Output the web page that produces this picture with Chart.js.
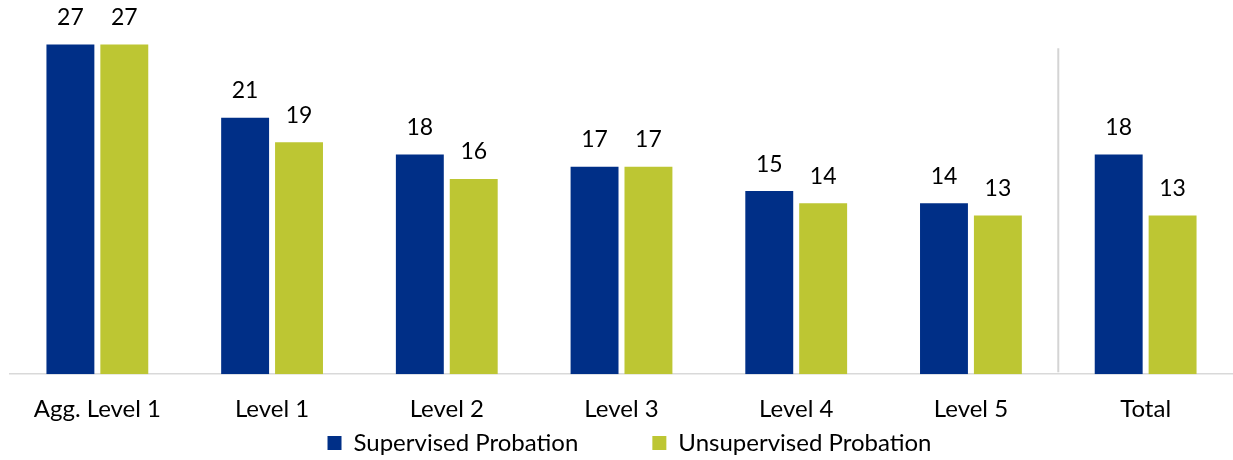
<!DOCTYPE html>
<html>
<head>
<meta charset="utf-8">
<script src="https://cdn.jsdelivr.net/npm/chart.js@4/dist/chart.umd.min.js"></script>
<style>
  html, body { margin: 0; padding: 0; background: #fff; }
  #wrap { width: 1233px; height: 460px; }
</style>
</head>
<body>
<div id="wrap"><canvas id="probationChart"></canvas></div>
<script>
// Categories and series
const categories = ["Agg. Level 1", "Level 1", "Level 2", "Level 3", "Level 4", "Level 5", "Total"];
const supervised = [27, 21, 18, 17, 15, 14, 18];
const unsupervised = [27, 19, 16, 17, 14, 13, 13];
const seriesNames = ["Supervised Probation", "Unsupervised Probation"];

const BLUE = "#002F87";
const GREEN = "#BDC633";
const FONT = "Lato, 'Open Sans', sans-serif";

// Value labels above each bar (kept inside the canvas near the top)
const valueLabels = {
  id: "valueLabels",
  afterDatasetsDraw(chart) {
    const ctx = chart.ctx;
    ctx.save();
    ctx.font = "23px " + FONT;
    ctx.fillStyle = "#000";
    ctx.textAlign = "center";
    ctx.textBaseline = "middle";
    chart.data.datasets.forEach((ds, i) => {
      chart.getDatasetMeta(i).data.forEach((bar, j) => {
        ctx.fillText(ds.data[j], bar.x, Math.max(bar.y - 27, 18));
      });
    });
    ctx.restore();
  }
};

// Thin grey divider before the Total group
const totalDivider = {
  id: "totalDivider",
  afterDraw(chart) {
    const x = chart.scales.x.getPixelForValue(5.5);
    const top = chart.scales.y.getPixelForValue(26.7);
    const ctx = chart.ctx;
    ctx.save();
    ctx.strokeStyle = "#D4D4D4";
    ctx.lineWidth = 2;
    ctx.beginPath();
    ctx.moveTo(x, top);
    ctx.lineTo(x, chart.chartArea.bottom - 2);
    ctx.stroke();
    ctx.restore();
  }
};

// nudge the legend a little right, like the original
const legendShift = {
  id: "legendShift",
  afterLayout(chart) {
    chart.legend.left += 8;
    chart.legend.right += 8;
  }
};

const ctx = document.getElementById("probationChart").getContext("2d");
new Chart(ctx, {
  type: "bar",
  data: {
    labels: categories,
    datasets: [
      { label: seriesNames[0], data: supervised, backgroundColor: BLUE },
      { label: seriesNames[1], data: unsupervised, backgroundColor: GREEN }
    ]
  },
  options: {
    responsive: true,
    maintainAspectRatio: false,
    animation: false,
    layout: { padding: { left: 10, right: 0, top: 8, bottom: -5 } },
    datasets: { bar: { categoryPercentage: 0.617, barPercentage: 0.889 } },
    scales: {
      x: {
        grid: { display: false, drawTicks: false },
        border: { color: "#D9D9D9", width: 1.5 },
        ticks: { color: "#000", font: { family: FONT, size: 24 }, padding: 21 },
        afterFit(scale) { scale.height -= 22; }
      },
      y: { display: false, min: 0, max: 30 }
    },
    plugins: {
      tooltip: { enabled: false },
      legend: {
        position: "bottom",
        labels: {
          color: "#000",
          font: { family: FONT, size: 24 },
          boxWidth: 14,
          boxHeight: 14,
          padding: 8,
          generateLabels(chart) {
            const items = Chart.defaults.plugins.legend.labels.generateLabels(chart);
            items[0].text = items[0].text + "\u2003\u2003\u2003\u2002";
            items.forEach(it => { it.lineWidth = 0; });
            return items;
          }
        }
      }
    }
  },
  plugins: [valueLabels, totalDivider, legendShift]
});
</script>
</body>
</html>
